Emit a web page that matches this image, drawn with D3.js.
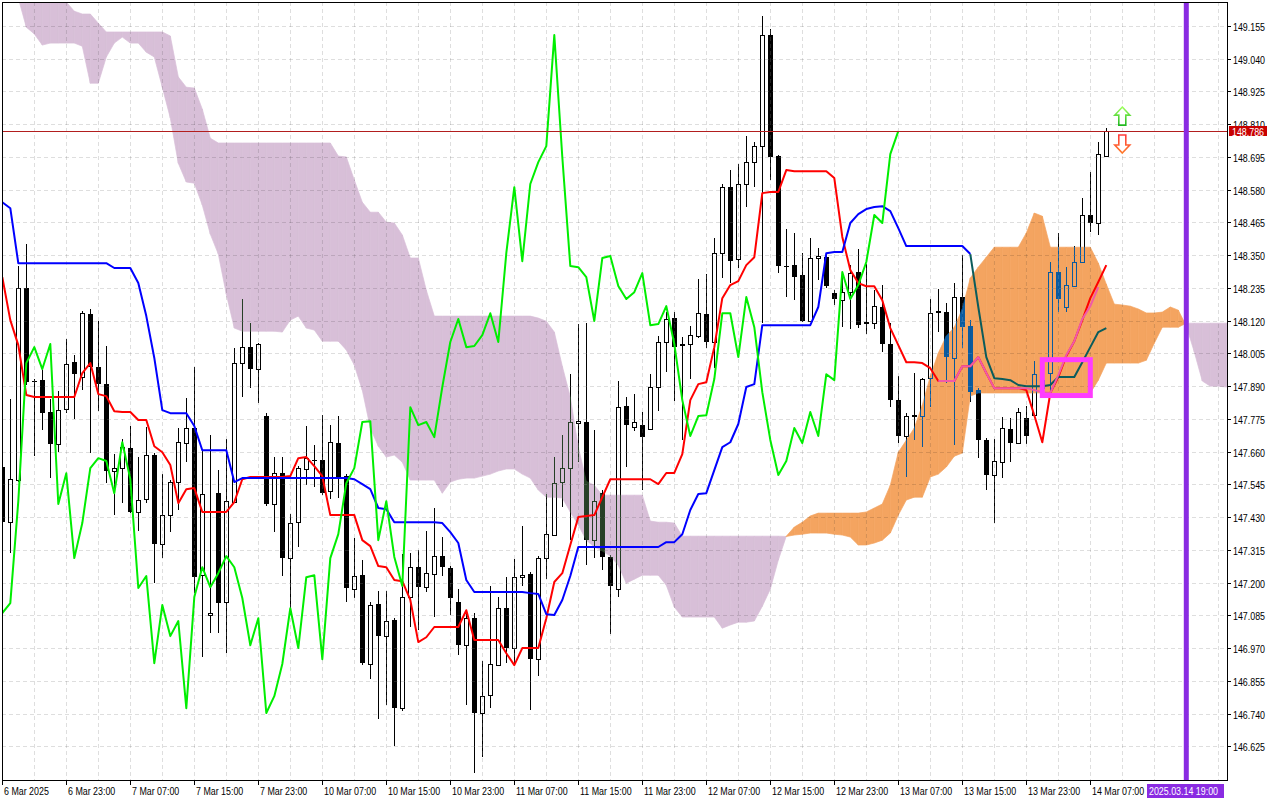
<!DOCTYPE html>
<html><head><meta charset="utf-8">
<script src="https://cdn.jsdelivr.net/npm/d3@7"></script>
<style>
html,body{margin:0;padding:0;background:#fff;overflow:hidden}
text{font-family:'Liberation Sans',Arial,sans-serif;font-size:10.2px}
</style>
</head><body>
<svg id="c" width="1280" height="800"></svg>
<script>
// ---------- DATA (USDJPY H1, bar 0 = 6 Mar 2025 15:00) ----------
const open=[
147.606,147.413,147.560,148.235,147.908,147.911,147.799,147.686,147.809,147.974,
147.922,148.143,147.957,147.897,147.592,147.602,147.672,147.448,147.493,147.648,
147.335,147.437,147.553,147.690,147.743,147.226,147.086,147.514,147.131,147.483,
147.971,148.027,147.950,147.785,147.476,147.584,147.286,147.413,147.599,147.630,
147.630,147.521,147.690,147.574,147.177,147.226,146.914,147.124,147.012,147.068,
146.759,147.149,147.254,147.184,147.230,147.293,147.251,147.131,146.980,147.075,
146.742,146.805,146.910,147.110,146.970,147.219,147.230,146.931,147.286,147.367,
147.553,147.602,147.760,147.764,147.349,147.514,147.290,147.177,147.820,147.746,
147.753,147.739,147.887,148.045,148.129,148.038,148.038,148.066,148.143,148.045,
148.357,148.589,148.336,148.600,148.677,148.733,149.123,148.698,148.312,148.315,
148.280,148.119,148.340,148.343,148.217,148.192,148.220,148.291,148.115,148.112,
148.168,148.038,147.841,147.715,147.785,147.785,147.918,148.154,148.150,147.989,
148.203,148.101,147.876,147.701,147.578,147.623,147.739,147.690,147.778,147.788,
147.883,147.936,148.291,148.168,148.242,148.326,148.491,148.463,148.698];
const high=[
147.630,147.844,148.312,148.389,147.915,147.946,147.844,147.872,148.055,147.999,
148.154,148.161,148.119,148.031,147.651,147.704,147.750,147.640,147.746,147.655,
147.581,147.560,147.743,147.848,147.957,147.665,147.718,147.595,147.704,148.024,
148.196,148.112,148.041,147.795,147.640,147.640,147.441,147.609,147.750,147.683,
147.788,147.753,147.785,147.581,147.356,147.279,147.131,147.170,147.170,147.075,
147.300,147.304,147.314,147.381,147.462,147.360,147.258,147.177,147.103,147.093,
146.924,147.188,147.149,147.219,147.283,147.398,147.237,147.293,147.511,147.640,
147.718,147.932,148.108,148.112,147.736,147.525,147.297,147.908,147.852,147.862,
147.799,147.932,148.066,148.150,148.150,148.062,148.101,148.266,148.284,148.410,
148.600,148.649,148.670,148.768,148.747,149.190,149.144,148.702,148.442,148.428,
148.357,148.410,148.375,148.350,148.227,148.280,148.315,148.371,148.319,148.227,
148.245,148.112,147.925,147.795,147.936,147.918,148.196,148.231,148.182,148.252,
148.350,148.122,147.883,147.708,147.704,147.781,147.778,147.813,147.820,147.978,
147.939,148.326,148.428,148.308,148.382,148.551,148.642,148.747,148.796];
const low=[
147.385,147.304,147.553,147.894,147.644,147.736,147.567,147.658,147.795,147.774,
147.876,147.655,147.802,147.550,147.437,147.479,147.444,147.381,147.479,147.198,
147.286,147.377,147.455,147.623,147.163,146.938,147.023,147.023,146.952,147.479,
147.851,147.883,147.830,147.469,147.377,147.223,147.110,147.325,147.542,147.535,
147.507,147.493,147.497,147.131,147.146,146.910,146.861,146.720,146.770,146.626,
146.749,147.044,147.033,147.167,147.079,147.223,147.086,146.945,146.770,146.531,
146.587,146.759,146.907,146.917,146.917,147.188,146.752,146.872,147.212,147.363,
147.465,147.349,147.623,147.262,147.286,147.244,147.019,147.149,147.606,147.732,
147.525,147.736,147.802,147.939,147.838,147.701,147.915,148.059,148.024,147.953,
148.270,148.252,148.305,148.519,148.589,148.112,148.614,148.287,148.203,148.192,
148.115,148.115,148.262,148.235,148.175,148.097,148.090,148.094,148.073,148.090,
148.010,147.816,147.690,147.571,147.701,147.676,147.816,148.080,147.901,147.683,
148.024,147.834,147.637,147.525,147.409,147.567,147.623,147.686,147.686,147.785,
147.859,147.866,148.150,148.150,148.238,148.322,148.431,148.421,148.694];
const close=[
147.413,147.564,148.235,147.904,147.906,147.795,147.686,147.806,147.967,147.932,
148.146,147.957,147.897,147.592,147.602,147.676,147.448,147.490,147.648,147.335,
147.437,147.553,147.693,147.743,147.219,147.511,147.093,147.128,147.486,147.971,
148.027,147.950,148.038,147.476,147.584,147.286,147.409,147.602,147.637,147.627,
147.514,147.693,147.564,147.181,147.223,146.917,147.121,147.012,147.065,146.759,
147.149,147.254,147.184,147.233,147.293,147.254,147.146,146.980,147.075,146.742,
146.801,146.914,147.110,146.970,147.219,147.226,146.931,147.286,147.370,147.549,
147.602,147.764,147.767,147.349,147.486,147.290,147.188,147.816,147.753,147.764,
147.711,147.887,148.045,148.126,148.027,148.031,148.069,148.146,148.045,148.357,
148.589,148.329,148.600,148.677,148.733,149.123,148.695,148.312,148.308,148.273,
148.119,148.340,148.347,148.242,148.196,148.220,148.287,148.104,148.108,148.171,
148.038,147.841,147.715,147.785,147.788,147.915,148.146,148.146,147.992,148.203,
148.097,147.869,147.701,147.578,147.627,147.743,147.690,147.799,147.715,147.932,
147.911,148.291,148.196,148.245,148.326,148.491,148.463,148.705,148.786];

const tenkan=[
148.273,148.122,148.034,147.859,147.852,147.852,147.852,147.852,147.852,147.852,
147.936,147.971,147.862,147.855,147.802,147.799,147.799,147.771,147.771,147.679,
147.658,147.613,147.479,147.528,147.532,147.448,147.448,147.448,147.448,147.483,
147.563,147.571,147.571,147.571,147.571,147.571,147.574,147.637,147.641,147.609,
147.574,147.437,147.437,147.437,147.437,147.349,147.328,147.258,147.254,147.209,
147.205,147.139,146.991,147.008,147.044,147.044,147.044,147.044,147.103,146.998,
146.998,146.998,146.998,146.952,146.910,146.970,146.970,146.970,147.075,147.202,
147.233,147.332,147.430,147.434,147.437,147.500,147.563,147.563,147.563,147.563,
147.563,147.563,147.546,147.585,147.585,147.651,147.841,147.897,147.904,148.027,
148.199,148.245,148.259,148.315,148.343,148.568,148.572,148.572,148.649,148.645,
148.645,148.645,148.645,148.645,148.621,148.414,148.298,148.252,148.241,148.241,
148.192,148.094,148.034,147.974,147.974,147.971,147.953,147.908,147.908,147.908,
147.960,147.960,147.992,147.936,147.883,147.883,147.883,147.883,147.876,147.788,
147.693,147.866,147.922,147.996,148.048,148.122,148.199,148.256,148.315];
const kijun=[
148.536,148.515,148.322,148.322,148.322,148.322,148.322,148.322,148.322,148.322,
148.322,148.322,148.322,148.322,148.305,148.305,148.305,148.252,148.136,147.989,
147.806,147.795,147.795,147.795,147.750,147.665,147.665,147.665,147.665,147.553,
147.567,147.567,147.567,147.567,147.567,147.567,147.567,147.567,147.567,147.567,
147.567,147.567,147.567,147.567,147.563,147.546,147.528,147.462,147.458,147.412,
147.412,147.412,147.412,147.412,147.412,147.409,147.377,147.339,147.209,147.167,
147.167,147.167,147.167,147.167,147.167,147.167,147.163,147.160,147.089,147.086,
147.139,147.223,147.325,147.325,147.325,147.325,147.325,147.325,147.325,147.325,
147.325,147.325,147.325,147.342,147.342,147.370,147.455,147.511,147.514,147.595,
147.676,147.693,147.757,147.887,147.897,148.104,148.104,148.104,148.104,148.104,
148.104,148.104,148.168,148.357,148.361,148.361,148.463,148.494,148.512,148.519,
148.522,148.505,148.445,148.382,148.382,148.382,148.382,148.382,148.382,148.382,
148.382,148.354];
// Senkou spans, already displaced 26 bars forward (index = chart bar)
const spanA=[
149.288,149.267,149.253,149.151,149.127,149.088,149.095,149.095,149.095,149.095,
149.084,148.954,148.954,149.046,149.095,149.116,149.095,149.095,149.063,149.046,
148.940,148.832,148.673,148.607,148.603,148.526,148.424,148.354,148.213,148.094,
148.083,148.083,148.083,148.083,148.083,148.080,148.122,148.136,148.094,148.087,
148.048,148.048,148.048,148.017,147.964,147.876,147.743,147.679,147.641,147.648,
147.623,147.560,147.560,147.560,147.560,147.514,147.553,147.563,147.567,147.567,
147.574,147.581,147.592,147.599,147.599,147.581,147.567,147.525,147.500,147.500,
147.497,147.448,147.402,147.349,147.325,147.311,147.293,147.261,147.198,147.212,
147.226,147.226,147.226,147.191,147.114,147.079,147.079,147.079,147.079,147.079,
147.040,147.051,147.061,147.061,147.065,147.117,147.177,147.279,147.363,147.395,
147.412,147.434,147.444,147.444,147.444,147.444,147.444,147.444,147.448,147.462,
147.476,147.542,147.658,147.700,147.743,147.823,147.925,148.006,148.066,148.097,
148.161,148.270,148.308,148.343,148.378,148.378,148.378,148.378,148.428,148.498,
148.487,148.378,148.378,148.378,148.378,148.378,148.378,148.322,148.248,148.178,
148.175,148.171,148.161,148.147,148.147,148.150,148.168,148.157,148.101,148.010,
147.908,147.890,147.890,147.887,147.887];
const spanB=[
149.350,149.350,149.350,149.350,149.350,149.350,149.350,149.350,149.239,149.207,
149.197,149.197,149.165,149.134,149.134,149.134,149.134,149.134,149.134,149.134,
149.134,149.120,148.976,148.940,148.937,148.863,148.761,148.744,148.744,148.744,
148.744,148.744,148.744,148.744,148.744,148.744,148.744,148.744,148.744,148.744,
148.744,148.744,148.698,148.695,148.614,148.536,148.501,148.501,148.466,148.463,
148.421,148.340,148.340,148.227,148.136,148.136,148.136,148.136,148.136,148.136,
148.136,148.136,148.136,148.136,148.136,148.136,148.136,148.129,148.118,148.080,
147.960,147.852,147.676,147.556,147.542,147.507,147.507,147.507,147.507,147.507,
147.507,147.416,147.412,147.412,147.409,147.363,147.363,147.363,147.363,147.363,
147.363,147.363,147.363,147.363,147.363,147.363,147.363,147.363,147.362,147.367,
147.370,147.374,147.374,147.374,147.370,147.367,147.360,147.332,147.332,147.339,
147.349,147.374,147.437,147.490,147.500,147.500,147.571,147.581,147.606,147.644,
147.655,147.855,147.866,147.866,147.866,147.866,147.866,147.866,147.866,147.866,
147.866,147.866,147.866,147.866,147.866,147.866,147.866,147.911,147.971,147.971,
147.971,147.971,147.971,147.981,148.041,148.097,148.097,148.097,148.111,148.111,
148.111,148.111,148.111,148.111,148.111];
// second indicator lines (start bar + values)
const kijun2Start=121;
const kijun2=[148.354,148.168,147.992,147.918,147.915,147.911,147.894,147.890,147.890,147.890,
147.894,147.922,147.922,147.922,147.974,148.027,148.080,148.094];
const tenkan2Start=117;
const tenkan2=[147.908,147.908,147.908,147.960,147.960,147.992,147.936,147.883,147.883,147.883,
147.883,147.883,147.876,147.869,147.866,147.929,147.999,148.048,148.126,148.171,148.238];
const chikouShift=26;

const timeLabels=["6 Mar 2025","6 Mar 23:00","7 Mar 07:00","7 Mar 15:00","7 Mar 23:00","10 Mar 07:00",
"10 Mar 15:00","10 Mar 23:00","11 Mar 07:00","11 Mar 15:00","11 Mar 23:00","12 Mar 07:00",
"12 Mar 15:00","12 Mar 23:00","13 Mar 07:00","13 Mar 15:00","13 Mar 23:00","14 Mar 07:00"];
const barsPerLabel=8;
const priceTicks=["146.625","146.740","146.855","146.970","147.085","147.200","147.315","147.430",
"147.545","147.660","147.775","147.890","148.005","148.120","148.235","148.350","148.465","148.580",
"148.695","148.810","148.925","149.040","149.155"];
const lastPrice=148.786;
const cursorBar=148, cursorLabel="2025.03.14 19:00";
const signalBox={from:130,to:136,top:147.983,bottom:147.857};
const arrowMarks=[{bar:140,price:148.807,dir:"up"},{bar:140,price:148.772,dir:"down"}];

// ---------- LAYOUT ----------
const PL=2,PT=2,PR=1227,PB=780;
const SX=0.87; // horizontal squeeze of the terminal's narrow font
const x=d3.scaleLinear().domain([0,1]).range([2.3,10.3]);
const y=d3.scaleLinear().domain([146.5066,149.2393]).range([PB,PT]);
const svg=d3.select("#c");
svg.append("rect").attr("width",1280).attr("height",800).attr("fill","#fff");
const defs=svg.append("defs");
defs.append("clipPath").attr("id","plot").append("rect")
  .attr("x",PL).attr("y",PT).attr("width",PR-PL).attr("height",PB-PT);
const gUp=defs.append("linearGradient").attr("id","gUp").attr("x1",0).attr("y1",0).attr("x2",0).attr("y2",1);
gUp.append("stop").attr("offset","0").attr("stop-color","#9cff5a");
gUp.append("stop").attr("offset","1").attr("stop-color","#22b822");
const gDn=defs.append("linearGradient").attr("id","gDn").attr("x1",0).attr("y1",0).attr("x2",0).attr("y2",1);
gDn.append("stop").attr("offset","0").attr("stop-color","#ff3b3b");
gDn.append("stop").attr("offset","1").attr("stop-color","#ff7a2a");

const plot=svg.append("g").attr("clip-path","url(#plot)");
plot.append("rect").attr("x",0).attr("y",0).attr("width",1280).attr("height",800).attr("fill","#fff");

// cloud
const SANDY="#f4a460", THISTLE="#d8bfd8";
const cloud=plot.append("g");
for(let i=0;i<spanA.length-1;i++){
  const a0=spanA[i],b0=spanB[i],a1=spanA[i+1],b1=spanB[i+1];
  const d0=a0-b0,d1=a1-b1;
  const polys=[];
  if(d0*d1>=0){
    polys.push({c:(d0+d1)>0?SANDY:THISTLE,p:[[i,a0],[i+1,a1],[i+1,b1],[i,b0]]});
  }else{
    const t=d0/(d0-d1), xm=i+t, pm=a0+t*(a1-a0);
    polys.push({c:d0>0?SANDY:THISTLE,p:[[i,a0],[xm,pm],[i,b0]]});
    polys.push({c:d1>0?SANDY:THISTLE,p:[[xm,pm],[i+1,a1],[i+1,b1]]});
  }
  polys.forEach(o=>{
    cloud.append("polygon").attr("points",o.p.map(q=>x(q[0])+","+y(q[1])).join(" "))
      .attr("fill",o.c).attr("stroke",o.c).attr("stroke-width",0.7);
  });
}

// grid
const grid=plot.append("g").attr("stroke","#000").attr("stroke-opacity",0.13)
  .attr("stroke-dasharray","4,3").attr("stroke-width",1);
priceTicks.forEach(t=>{
  const yy=Math.round(y(+t))+0.5;
  grid.append("line").attr("x1",PL).attr("x2",PR).attr("y1",yy).attr("y2",yy);
});
for(let i=4;i<=154;i+=4){
  const xx=Math.floor(x(i))+0.5;
  grid.append("line").attr("x1",xx).attr("x2",xx).attr("y1",PT).attr("y2",PB);
}

// candles (drawn inverted over the backdrop, like the terminal does)
const cg=plot.append("g").style("mix-blend-mode","difference");
for(let i=0;i<close.length;i++){
  const c=Math.floor(x(i));
  const o=open[i],h=high[i],l=low[i],cl=close[i];
  const yt=Math.round(y(Math.max(o,cl))), yb=Math.round(y(Math.min(o,cl)));
  const yh=Math.round(y(h)), yl=Math.round(y(l));
  if(cl<o){
    cg.append("line").attr("x1",c+0.5).attr("x2",c+0.5).attr("y1",yh).attr("y2",yl).attr("stroke","#fff");
    cg.append("rect").attr("x",c-2).attr("y",yt).attr("width",5).attr("height",Math.max(1,yb-yt)).attr("fill","#fff");
  }else{
    if(yb-yt<2){
      cg.append("line").attr("x1",c+0.5).attr("x2",c+0.5).attr("y1",yh).attr("y2",yl).attr("stroke","#fff");
      cg.append("rect").attr("x",c-2).attr("y",yt).attr("width",5).attr("height",Math.max(1,yb-yt+1)).attr("fill","#fff");
    }else{
      if(yh<yt) cg.append("line").attr("x1",c+0.5).attr("x2",c+0.5).attr("y1",yh).attr("y2",yt).attr("stroke","#fff");
      if(yl>yb) cg.append("line").attr("x1",c+0.5).attr("x2",c+0.5).attr("y1",yb).attr("y2",yl).attr("stroke","#fff");
      cg.append("rect").attr("x",c-1.5).attr("y",yt+0.5).attr("width",4).attr("height",yb-yt)
        .attr("fill","none").attr("stroke","#fff");
    }
  }
}

// indicator lines
const line=d3.line().x(d=>x(d[0])).y(d=>y(d[1]));
const lines=plot.append("g").attr("fill","none").attr("stroke-width",2).attr("stroke-linejoin","round");
lines.append("path").attr("d",line(tenkan.map((v,i)=>[i,v]))).attr("stroke","#ff0000");
lines.append("path").attr("d",line(kijun.map((v,i)=>[i,v]))).attr("stroke","#0000ff");
const chikou=close.slice(chikouShift).map((v,i)=>[i,v]);
lines.append("path").attr("d",line(chikou)).attr("stroke","#00ee00");
lines.append("path").attr("d",line(kijun2.map((v,i)=>[i+kijun2Start,v]))).attr("stroke","#0b5c5c");
lines.append("path").attr("d",line(tenkan2.map((v,i)=>[i+tenkan2Start,v]))).attr("stroke","#f05aa8");

// signal box
plot.append("rect").attr("x",x(signalBox.from)).attr("y",y(signalBox.top))
  .attr("width",x(signalBox.to)-x(signalBox.from)).attr("height",y(signalBox.bottom)-y(signalBox.top))
  .attr("fill","none").attr("stroke","#ff3cff").attr("stroke-width",5);

// last price line
const yLast=Math.round(y(lastPrice))+0.5;
plot.append("line").attr("x1",PL).attr("x2",PR).attr("y1",yLast).attr("y2",yLast)
  .attr("stroke","#b21e1e").attr("stroke-width",1);

// arrows
arrowMarks.forEach(a=>{
  const cx=x(a.bar), py=y(a.price);
  let pts;
  if(a.dir==="up"){
    const b=py,t=py-18;
    pts=[[cx,t],[cx+7.5,t+8],[cx+3.5,t+8],[cx+3.5,b],[cx-3.5,b],[cx-3.5,t+8],[cx-7.5,t+8]];
  }else{
    const t=py,b=py+18;
    pts=[[cx,b],[cx+7.5,b-8],[cx+3.5,b-8],[cx+3.5,t],[cx-3.5,t],[cx-3.5,b-8],[cx-7.5,b-8]];
  }
  plot.append("polygon").attr("points",pts.map(p=>p.join(",")).join(" "))
    .attr("fill","#fff").attr("stroke",a.dir==="up"?"url(#gUp)":"url(#gDn)").attr("stroke-width",1.6);
});

// cursor vertical line
const xc=x(cursorBar);
plot.append("line").attr("x1",xc).attr("x2",xc).attr("y1",PT).attr("y2",PB)
  .attr("stroke","#8a2be2").attr("stroke-width",5);

// frame
svg.append("rect").attr("x",PL+0.5).attr("y",PT+0.5).attr("width",PR-PL).attr("height",PB-PT)
  .attr("fill","none").attr("stroke","#000");

function label(g,tx,ty,str,fill){
  return g.append("text").attr("transform",`translate(${tx},${ty}) scale(${SX},1)`).attr("fill",fill).text(str);
}

// price axis
const ax=svg.append("g");
priceTicks.forEach(t=>{
  const yy=Math.round(y(+t))+0.5;
  ax.append("line").attr("x1",PR).attr("x2",PR+4).attr("y1",yy).attr("y2",yy).attr("stroke","#000");
  if(Math.abs(yy-yLast)>9) label(ax,PR+6,yy+4,t,"#000");
  else label(ax,PR+6,yy+4,t,"#000").attr("clip-path",null);
});
ax.append("rect").attr("x",PR+2).attr("y",yLast-5.5).attr("width",38).attr("height",10).attr("fill","#c80000");
label(ax,PR+5,yLast+4,lastPrice.toFixed(3),"#fff");

// time axis
timeLabels.forEach((t,k)=>{
  const xx=Math.floor(x(k*barsPerLabel))+0.5;
  ax.append("line").attr("x1",xx).attr("x2",xx).attr("y1",PB).attr("y2",PB+5).attr("stroke","#000");
  label(ax,xx+1.5,795,t,"#000");
});
ax.append("rect").attr("x",1147).attr("y",784).attr("width",77).attr("height",14).attr("fill","#8a2be2");
label(ax,1149,795,cursorLabel,"#fff");
</script>
</body></html>
